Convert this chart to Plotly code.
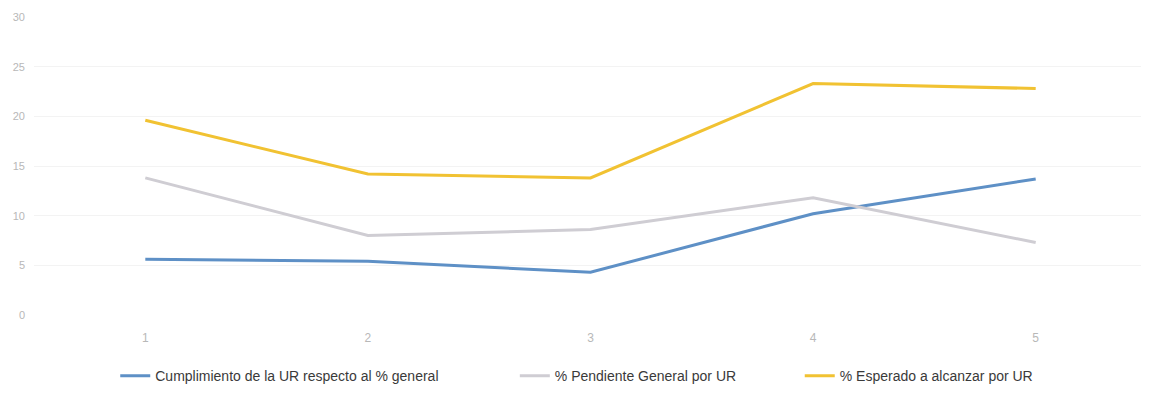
import plotly.graph_objects as go

categories = [1, 2, 3, 4, 5]
cumplimiento = [5.6, 5.4, 4.3, 10.2, 13.7]
pendiente = [13.8, 8.0, 8.6, 11.8, 7.3]
esperado = [19.6, 14.2, 13.8, 23.3, 22.8]
names = ["Cumplimiento de la UR respecto al % general",
         "% Pendiente General por UR",
         "% Esperado a alcanzar por UR"]
y_ticks = [0, 5, 10, 15, 20, 25, 30]

font_family = "Liberation Sans Narrow, Liberation Sans, Arial, sans-serif"

fig = go.Figure()
fig.add_trace(go.Scatter(x=categories, y=cumplimiento, mode="lines", name=names[0],
                         line=dict(color="#5e90c6", width=3), legend="legend", showlegend=True))
fig.add_trace(go.Scatter(x=categories, y=pendiente, mode="lines", name=names[1],
                         line=dict(color="#cfcdd3", width=3), legend="legend2", showlegend=True))
fig.add_trace(go.Scatter(x=categories, y=esperado, mode="lines", name=names[2],
                         line=dict(color="#f1c232", width=3), legend="legend3", showlegend=True))

leg_common = dict(orientation="h", yanchor="middle", y=-0.205, xanchor="left",
                  bgcolor="rgba(0,0,0,0)", font=dict(size=14, color="#3a3a3a", family=font_family))

fig.update_layout(
    width=1149, height=409,
    showlegend=True,
    margin=dict(l=26, r=10, t=9, b=102, autoexpand=False),
    paper_bgcolor="white", plot_bgcolor="white",
    font=dict(family=font_family),
    xaxis=dict(range=[0.5, 5.5], tickvals=categories, ticktext=[str(c) for c in categories],
               showgrid=False, zeroline=False, showline=False, ticks="",
               tickfont=dict(size=12, color="#b8b8b8"), ticklabelstandoff=14),
    yaxis=dict(range=[0, 30], tickvals=y_ticks, showgrid=True, gridcolor="#f3f3f3",
               zeroline=False, showline=False, ticks="",
               tickfont=dict(size=11, color="#b8b8b8"), ticklabelstandoff=8),
    legend=dict(x=0.073, **leg_common),
    legend2=dict(x=0.432, **leg_common),
    legend3=dict(x=0.688, **leg_common),
)

fig.write_html("out.html")
